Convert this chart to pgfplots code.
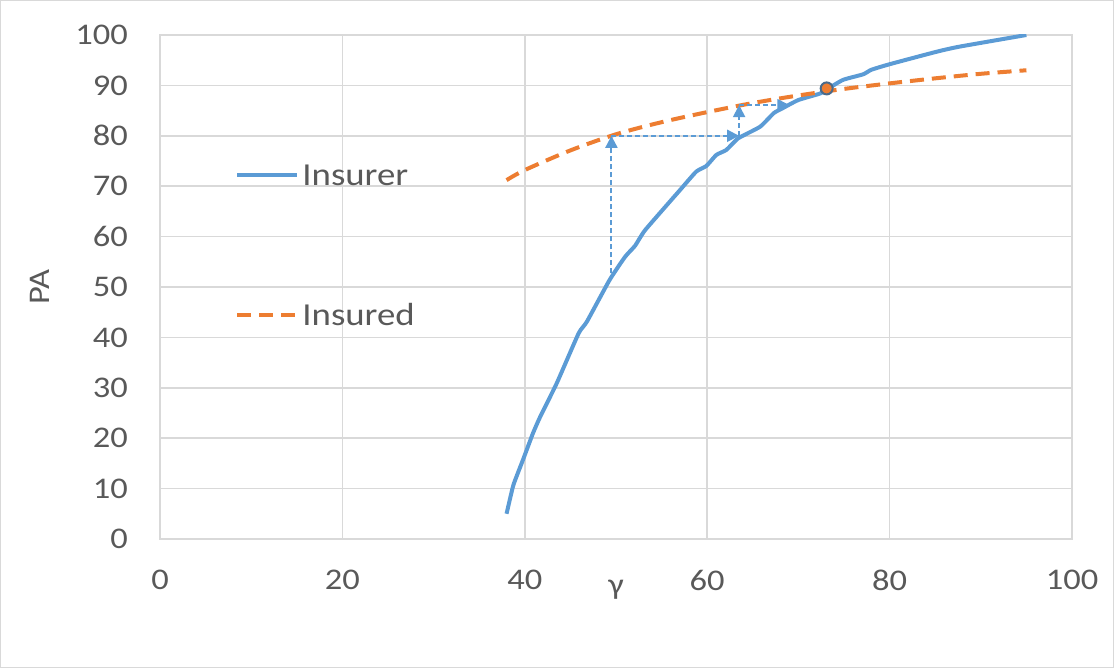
\documentclass[border=0pt]{standalone}
\usepackage{fontspec}
\setmainfont{Carlito}[FakeStretch=1.15]
\usepackage{pgfplots}
\pgfplotsset{compat=1.18}
\usetikzlibrary{arrows.meta}
\definecolor{bluec}{HTML}{5B9BD5}
\definecolor{orangec}{HTML}{ED7D31}
\definecolor{txt}{HTML}{595959}
\definecolor{gridc}{HTML}{D9D9D9}
\definecolor{markb}{HTML}{4A6A8A}
\begin{document}
\begin{tikzpicture}
\draw[draw=gridc, line width=0.6pt] (0.3pt,0.3pt) rectangle (556.7pt,333.7pt);
\begin{axis}[
  at={(80pt,64.5pt)}, anchor=south west,
  scale only axis, width=456pt, height=252pt,
  xmin=0, xmax=100, ymin=0, ymax=100,
  xtick={0,20,...,100}, ytick={0,10,...,100},
  grid=major, grid style={draw=gridc, line width=0.75pt},
  axis line style={draw=gridc, line width=0.75pt},
  major tick length=0pt,
  /pgf/number format/assume math mode=true,
  tick label style={font=\fontsize{15}{18}\selectfont, text=txt},
  xticklabel style={yshift=-12pt},
  yticklabel style={xshift=-12.5pt},
  xlabel={γ},
  label style={font=\fontsize{15}{18}\selectfont, text=txt},
  xlabel style={at={(axis description cs:0.5,0)}, anchor=center, yshift=-25.5pt},
  legend style={at={(axis cs:7.57,75.0)}, anchor=north west, draw=none, fill=none,
    font=\fontsize{16}{19}\selectfont, text=txt, row sep=60pt, column sep=1.5pt,
    nodes={inner sep=0pt, text height=10pt, text depth=0pt}},
  legend cell align=left,
  legend image code/.code={\draw[#1] (0pt,0pt) -- (30pt,0pt);},
]
\addplot[bluec, line width=2pt, smooth, tension=0.3] coordinates {
(38,5) (38.75,10.7) (39.8,15.7) (40.9,21) (41.7,24.3) (43.5,30.9) (45.9,40.8)
(46.8,43.1) (49.3,51.4) (51.0,56) (52.1,58.2) (53.2,61.3) (57.0,69.2) (58.8,72.9)
(59.9,74) (61.0,76.2) (62.1,77.2) (63.4,79.5) (65.8,81.8) (67.3,84.5) (68.3,85.5)
(70.0,87.1) (72.4,88.4) (73.3,89.4) (74.9,91.1) (77.1,92.2) (78.0,93.1) (80,94.2)
(85.2,96.7) (87.7,97.7) (95,100)};
\addlegendentry{Insurer}
\addplot[orangec, line width=2pt, dash pattern=on 7pt off 4pt, smooth] coordinates {
(38,71.2) (40,73.2) (45,77.1) (50,80.3) (55,82.7) (60,84.7) (65,86.5) (70,88.0)
(75,89.3) (80,90.4) (85,91.4) (90,92.3) (95,93.0)};
\addlegendentry{Insured}
\addplot[bluec, line width=1pt, dash pattern=on 2.5pt off 1.5pt, -{Triangle[width=6pt,length=6pt]}, forget plot] coordinates {(49.5,52.7) (49.5,80)};
\addplot[bluec, line width=1pt, dash pattern=on 2.5pt off 1.5pt, -{Triangle[width=6pt,length=6pt]}, forget plot] coordinates {(49.5,80) (63.5,80)};
\addplot[bluec, line width=1pt, dash pattern=on 2.5pt off 1.5pt, -{Triangle[width=6pt,length=6pt]}, forget plot] coordinates {(63.5,80) (63.5,86.1)};
\addplot[bluec, line width=1pt, dash pattern=on 2.5pt off 1.5pt, -{Triangle[width=6pt,length=6pt]}, forget plot] coordinates {(63.5,86.1) (69,86.1)};
\addplot[only marks, mark=*, mark size=3pt, mark options={fill=orangec, draw=markb, line width=1pt, solid}, forget plot] coordinates {(73.1,89.4)};
\end{axis}
\node[rotate=90, font=\fontsize{15}{18}\selectfont, text=txt] at (20pt,190.5pt) {PA};
\end{tikzpicture}
\end{document}
